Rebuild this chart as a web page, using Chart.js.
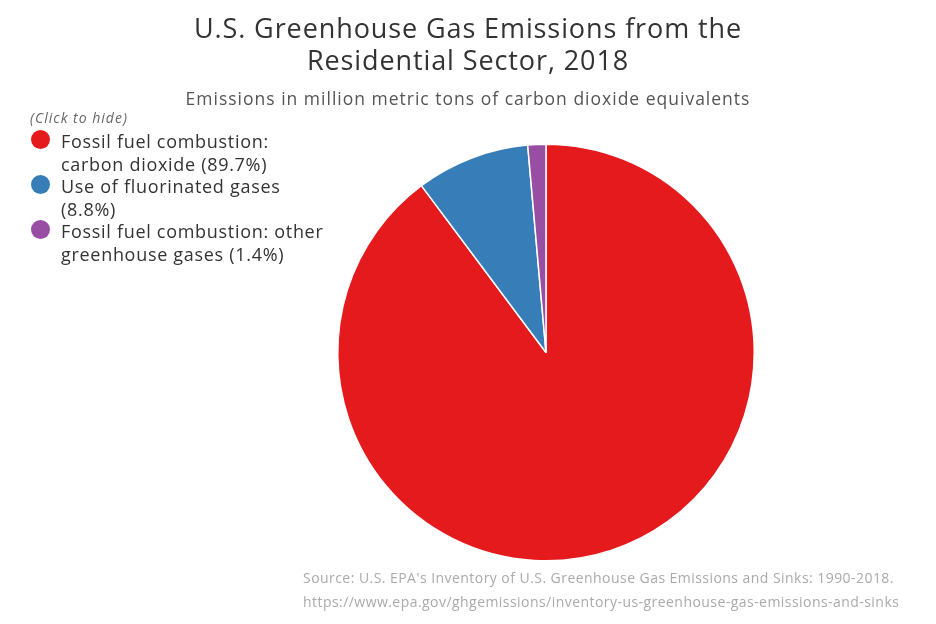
<!DOCTYPE html>
<html>
<head>
<meta charset="utf-8">
<script src="https://cdn.jsdelivr.net/npm/chart.js@4"></script>
<style>
  body { margin: 0; background: #fff; font-family: "Open Sans", sans-serif; }
  #wrap { position: relative; width: 936px; height: 624px; }
  #chart { position: absolute; left: 0; top: 0; }
  .t { position: absolute; white-space: nowrap; }
  #title { left: 0; width: 936px; top: 12px; text-align: center; font-size: 27px; line-height: 32px; letter-spacing: 0.9px; color: #333; }
  #sub { left: 0; width: 936px; top: 86px; text-align: center; font-size: 17.5px; letter-spacing: 1px; color: #555; }
  #hint { left: 30px; top: 108px; font-size: 14px; font-style: italic; letter-spacing: 1px; color: #666; }
  #legend { position: absolute; left: 31px; top: 130px; }
  .item { display: flex; align-items: flex-start; cursor: pointer; }
  .dot { width: 19px; height: 19px; border-radius: 50%; margin-top: 0; margin-right: 11px; flex: none; }
  .lbl { font-size: 18px; line-height: 22.5px; letter-spacing: 0.7px; color: #333; width: 270px; }
  #src { left: 303px; top: 566px; font-size: 14px; line-height: 24px; letter-spacing: 0.45px; color: #aaa; }
</style>
</head>
<body>
<div id="wrap">
  <canvas id="chart" width="936" height="624"></canvas>
  <div class="t" id="title">U.S. Greenhouse Gas Emissions from the<br>Residential Sector, 2018</div>
  <div class="t" id="sub">Emissions in million metric tons of carbon dioxide equivalents</div>
  <div class="t" id="hint">(Click to hide)</div>
  <div id="legend"></div>
  <div class="t" id="src">Source: U.S. EPA's Inventory of U.S. Greenhouse Gas Emissions and Sinks: 1990-2018.<br>https://www.epa.gov/ghgemissions/inventory-us-greenhouse-gas-emissions-and-sinks</div>
</div>
<script>
// --- data ---
const categories = ["Fossil fuel combustion: carbon dioxide", "Use of fluorinated gases", "Fossil fuel combustion: other greenhouse gases"];
const shares = [89.7, 8.8, 1.4];
const colors = ["#e41a1c", "#377eb8", "#984ea3"];

const chart = new Chart(document.getElementById('chart'), {
    type: 'pie',
    data: {
        labels: categories,
        datasets: [{ data: shares, backgroundColor: colors, borderColor: '#fff', borderWidth: 1.5 }]
    },
    options: {
        responsive: false,
        animation: false,
        layout: { padding: { left: 337, right: 181, top: 143, bottom: 62 } },
        plugins: { legend: { display: false }, tooltip: { enabled: false } }
    }
});

// --- legend (click to hide) ---
const legendEl = document.getElementById('legend');
categories.forEach((c, i) => {
    const item = document.createElement('div');
    item.className = 'item';
    item.innerHTML = `<span class="dot" style="background:${colors[i]}"></span><span class="lbl">${c} (${shares[i].toFixed(1)}%)</span>`;
    item.addEventListener('click', () => {
        chart.toggleDataVisibility(i);
        item.style.opacity = chart.getDataVisibility(i) ? 1 : 0.4;
        chart.update();
    });
    legendEl.appendChild(item);
});
</script>
</body>
</html>
